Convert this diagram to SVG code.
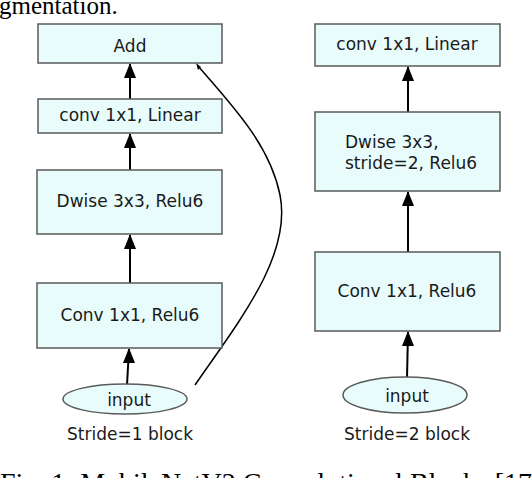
<svg xmlns="http://www.w3.org/2000/svg" width="532" height="478" viewBox="0 0 532 478">
<defs>
<style>
.box{fill:#e8fcfc;stroke:#5a5a5a;stroke-width:1.5}
.lbl{font-family:"DejaVu Sans",sans-serif;font-size:17px;fill:#1a1a1a}
.c{text-anchor:middle}
.serif{font-family:"Liberation Serif",serif;fill:#000}
.ln{stroke:#000;stroke-width:2}
.hd{fill:#000}
</style>
</defs>
<rect width="532" height="478" fill="#fff"/>
<text class="serif" x="-1" y="14" font-size="25">gmentation.</text>
<text class="serif" x="0" y="492" font-size="28">Fig. 1: MobileNetV2 Convolutional Blocks [17]</text>

<g id="connectors">
<line class="ln" x1="130" y1="99" x2="130" y2="64"/>
<polygon class="hd" points="130,63 124,78 136,78"/>
<line class="ln" x1="130" y1="170" x2="130" y2="134"/>
<polygon class="hd" points="130,133 124,148 136,148"/>
<line class="ln" x1="130" y1="283" x2="130" y2="235"/>
<polygon class="hd" points="130,234 124,249 136,249"/>
<line class="ln" x1="127" y1="385" x2="129" y2="349"/>
<polygon class="hd" points="129,348 123,363 135,363"/>
<path d="M195,385 C240,320 292,255 280,195 C270,145 232,105 198,66" stroke="#000" stroke-width="1.5" fill="none"/>
<polygon class="hd" points="196,63 201,67 198,70"/>
<line class="ln" x1="408" y1="112" x2="408" y2="67"/>
<polygon class="hd" points="408,66 402,81 414,81"/>
<line class="ln" x1="408" y1="252" x2="408" y2="192"/>
<polygon class="hd" points="408,191 402,206 414,206"/>
<line class="ln" x1="407" y1="378" x2="408" y2="332"/>
<polygon class="hd" points="408,331 402,346 414,346"/>
</g>

<g id="add1">
<rect class="box" x="38" y="24" width="184" height="39"/>
<text class="lbl c" x="130" y="52">Add</text>
</g>
<g id="linear1">
<rect class="box" x="38" y="99" width="184" height="34"/>
<text class="lbl c" x="130" y="121">conv 1x1, Linear</text>
</g>
<g id="dwise1">
<rect class="box" x="37" y="170" width="185" height="64"/>
<text class="lbl c" x="130" y="207">Dwise 3x3, Relu6</text>
</g>
<g id="conv1">
<rect class="box" x="37" y="283" width="185" height="65"/>
<text class="lbl c" x="130" y="321">Conv 1x1, Relu6</text>
</g>
<g id="input1">
<ellipse class="box" cx="125" cy="399" rx="62" ry="15"/>
<text class="lbl c" x="129" y="406">input</text>
</g>
<text class="lbl c" x="130" y="440">Stride=1 block</text>

<g id="linear2">
<rect class="box" x="315" y="24" width="185" height="42"/>
<text class="lbl c" x="407" y="50">conv 1x1, Linear</text>
</g>
<g id="dwise2">
<rect class="box" x="315" y="112" width="185" height="79"/>
<text class="lbl" x="345" y="148">Dwise 3x3,</text>
<text class="lbl" x="345" y="169">stride=2, Relu6</text>
</g>
<g id="conv2">
<rect class="box" x="315" y="252" width="185" height="79"/>
<text class="lbl c" x="407" y="297">Conv 1x1, Relu6</text>
</g>
<g id="input2">
<ellipse class="box" cx="405" cy="395" rx="62" ry="18"/>
<text class="lbl c" x="407" y="402">input</text>
</g>
<text class="lbl c" x="407" y="440">Stride=2 block</text>
</svg>
